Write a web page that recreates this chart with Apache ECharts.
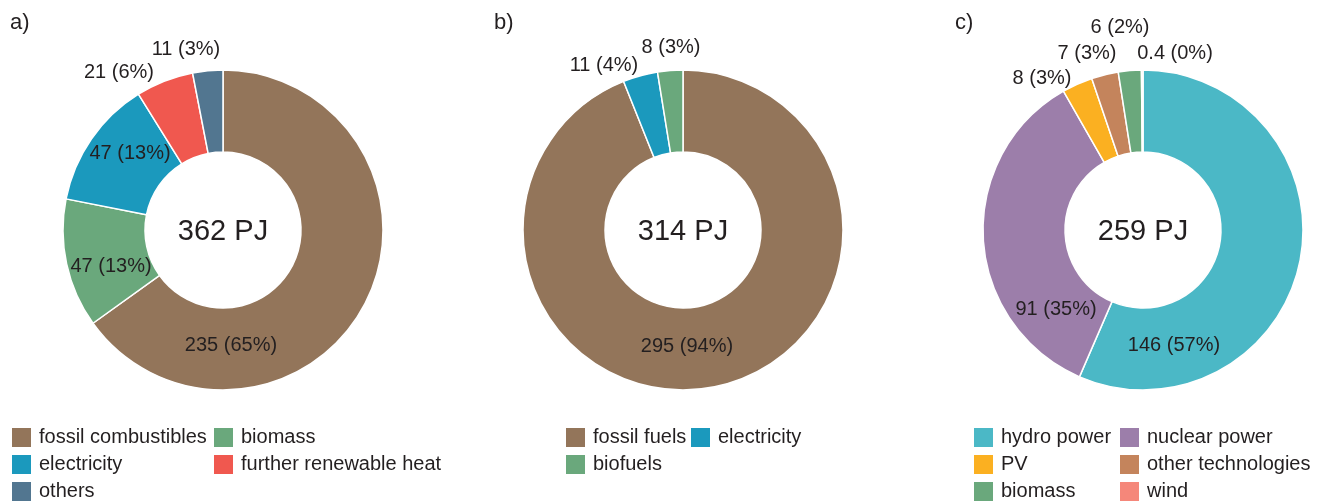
<!DOCTYPE html>
<html>
<head>
<meta charset="utf-8">
<script src="https://cdn.jsdelivr.net/npm/echarts@6/dist/echarts.min.js"></script>
<style>
html,body{margin:0;padding:0;background:#fff;}
#c{width:1319px;height:503px;}
</style>
</head>
<body>
<div id="c"></div>
<script>
// ---- data ----
const panelLetters = ['a)', 'b)', 'c)'];
const totals = [362, 314, 259];
const totalUnit = 'PJ';

const namesA = ['fossil combustibles', 'biomass', 'electricity', 'further renewable heat', 'others'];
const valuesA = [235, 47, 47, 21, 11];
const pctA = [65, 13, 13, 6, 3];

const namesB = ['fossil fuels', 'electricity', 'biofuels'];
const valuesB = [295, 11, 8];
const pctB = [94, 4, 3];

const namesC = ['hydro power', 'nuclear power', 'PV', 'other technologies', 'biomass', 'wind'];
const valuesC = [146, 91, 8, 7, 6, 0.4];
const pctC = [57, 35, 3, 3, 2, 0];

// ---- styles / layout ----
const colorMap = {
  'fossil combustibles': '#93755a',
  'fossil fuels': '#93755a',
  'biomass': '#6aa87c',
  'biofuels': '#6aa87c',
  'electricity': '#1b99bd',
  'further renewable heat': '#f0584f',
  'others': '#527690',
  'hydro power': '#4bb8c6',
  'nuclear power': '#9c7eaa',
  'PV': '#fbb021',
  'other technologies': '#c4845c',
  'wind': '#f5877a'
};
const FONT = 'Liberation Sans, Arial, sans-serif';
const TXT = '#231f20';
const centers = [[223, 230], [683, 230], [1143, 230]];
const radius = [78, 160];
// label placement offsets from pie centre (px), per slice
const labelSpots = [
  [[8, 115], [-112, 36], [-93, -77], [-104, -158], [-37, -181]],
  [[4, 116], [-79, -165], [-12, -183]],
  [[31, 115], [-87, 79], [-101, -152], [-56, -177], [-23, -203], [32, -177]]
];
const insideFlags = [
  [true, true, true, false, false],
  [true, false, false],
  [true, true, false, false, false, false]
];

const sets = [
  {names: namesA, values: valuesA, pct: pctA},
  {names: namesB, values: valuesB, pct: pctB},
  {names: namesC, values: valuesC, pct: pctC}
];

const series = sets.map((s, si) => ({
  type: 'pie',
  center: centers[si],
  radius: radius,
  startAngle: 90,
  clockwise: true,
  avoidLabelOverlap: false,
  silent: true,
  animation: false,
  itemStyle: {borderColor: '#fff', borderWidth: 1.5},
  labelLine: {show: false},
  label: {
    show: true,
    fontFamily: FONT,
    fontSize: 20,
    color: TXT,
    formatter: p => s.values[p.dataIndex] + ' (' + s.pct[p.dataIndex] + '%)'
  },
  labelLayout: p => {
    const off = labelSpots[si][p.dataIndex];
    return {
      x: centers[si][0] + off[0],
      y: centers[si][1] + off[1],
      align: 'center',
      verticalAlign: 'middle'
    };
  },
  data: s.names.map((n, i) => ({
    name: n,
    value: s.values[i],
    itemStyle: {color: colorMap[n]},
    label: {position: insideFlags[si][i] ? 'inside' : 'outside'}
  }))
}));

const legendCols = [
  {left: 10, data: ['fossil combustibles', 'electricity', 'others']},
  {left: 212, data: ['biomass', 'further renewable heat']},
  {left: 564, data: ['fossil fuels', 'biofuels']},
  {left: 689, data: ['electricity']},
  {left: 972, data: ['hydro power', 'PV', 'biomass']},
  {left: 1118, data: ['nuclear power', 'other technologies', 'wind']}
];
const legends = legendCols.map(c => ({
  orient: 'vertical',
  left: c.left,
  top: 426,
  height: 150,
  padding: 0,
  itemWidth: 21,
  itemHeight: 21,
  itemGap: 4,
  icon: 'rect',
  selectedMode: false,
  textStyle: {fontFamily: FONT, fontSize: 20, lineHeight: 21, color: TXT, padding: [0, 0, 0, 2]},
  data: c.data.map(n => ({name: n, itemStyle: {color: colorMap[n]}}))
}));

const graphics = [];
centers.forEach((c, i) => {
  graphics.push({
    type: 'text', x: c[0], y: c[1] + 2,
    style: {text: totals[i] + ' ' + totalUnit, fontFamily: FONT, fontSize: 29, fill: TXT,
      align: 'center', verticalAlign: 'middle'}
  });
});
const letterX = [10, 494, 955];
panelLetters.forEach((t, i) => {
  graphics.push({
    type: 'text', x: letterX[i], y: 23,
    style: {text: t, fontFamily: FONT, fontSize: 22, fill: TXT, align: 'left', verticalAlign: 'middle'}
  });
});

const chart = echarts.init(document.getElementById('c'), null, {renderer: 'canvas'});
chart.setOption({
  animation: false,
  backgroundColor: '#fff',
  legend: legends,
  graphic: graphics,
  series: series
});
</script>
</body>
</html>
